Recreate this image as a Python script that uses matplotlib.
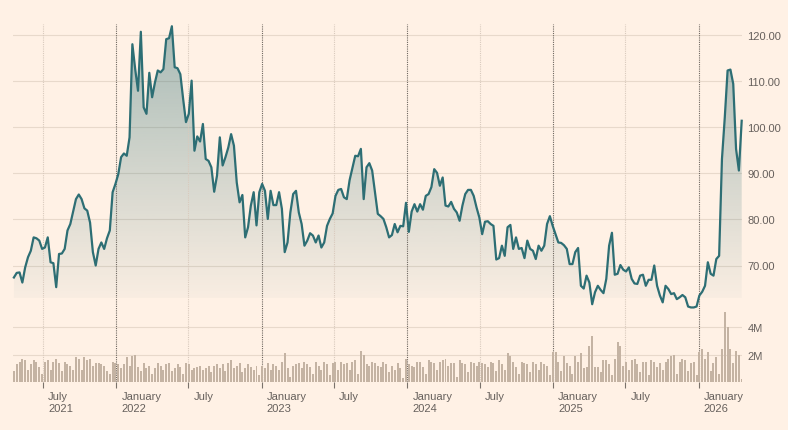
import numpy as np
import pandas as pd
import matplotlib
matplotlib.use("Agg")
import matplotlib.pyplot as plt
import matplotlib.dates as mdates
import matplotlib.transforms as mtransforms
from matplotlib.colors import to_rgb

plt.rcParams['font.family'] = ['Liberation Sans', 'DejaVu Sans']

# weekly closing price
price = [
    67.4, 68.4, 68.5, 66.3, 69.6, 71.8, 73.2, 76.1, 75.9, 75.4,
    73.6, 73.9, 76.1, 70.7, 70.5, 65.3, 72.5, 72.6, 73.6, 77.6,
    79.0, 81.7, 84.4, 85.4, 84.4, 82.4, 81.9, 79.3, 72.9, 70.0,
    73.6, 75.0, 73.6, 75.9, 77.6, 85.9, 87.7, 89.8, 93.5, 94.3,
    93.8, 97.8, 118.0, 112.6, 107.9, 120.7, 104.3, 102.9, 111.8, 106.5,
    109.7, 112.3, 111.9, 112.6, 119.1, 119.3, 121.9, 113.0, 112.8, 111.5,
    106.1, 101.1, 102.9, 110.1, 94.9, 98.0, 96.9, 100.7, 93.1, 92.7,
    91.3, 86.0, 89.5, 97.8, 91.7, 93.5, 95.6, 98.5, 96.0, 88.0,
    83.7, 85.3, 76.1, 78.3, 83.0, 85.9, 78.7, 85.9, 87.7, 86.2,
    80.1, 86.2, 83.1, 83.1, 85.9, 82.3, 72.9, 75.0, 81.5, 85.5,
    86.2, 81.5, 79.0, 74.3, 75.4, 77.0, 76.5, 75.0, 76.5, 73.9,
    75.0, 78.6, 80.1, 81.3, 85.1, 86.4, 86.6, 84.8, 84.4, 88.5,
    91.1, 93.8, 93.7, 95.3, 84.4, 91.3, 92.2, 90.6, 85.9, 81.2,
    80.7, 80.1, 78.3, 76.1, 76.6, 79.0, 77.2, 78.6, 78.5, 83.6,
    77.3, 81.7, 83.3, 81.7, 83.3, 82.1, 85.1, 85.5, 87.0, 90.9,
    90.1, 87.3, 89.1, 83.0, 82.8, 83.8, 82.3, 81.5, 79.7, 83.0,
    85.5, 86.4, 86.4, 85.1, 82.6, 80.4, 76.8, 79.5, 79.6, 79.0,
    78.6, 71.3, 71.6, 74.3, 72.1, 78.3, 78.8, 73.6, 76.1, 73.6,
    73.8, 71.6, 75.4, 73.6, 73.2, 71.4, 74.3, 73.2, 74.3, 79.0,
    80.7, 78.6, 76.8, 75.0, 74.9, 74.4, 73.6, 70.3, 70.3, 72.9,
    73.8, 65.6, 65.0, 67.8, 66.3, 61.6, 64.2, 65.6, 64.7, 64.0,
    67.1, 74.3, 77.1, 68.0, 68.2, 70.1, 69.1, 68.7, 69.6, 67.1,
    66.1, 66.0, 67.8, 68.0, 65.6, 66.9, 66.9, 70.0, 65.6, 63.5,
    62.0, 65.6, 64.9, 63.8, 64.0, 62.7, 63.1, 63.6, 63.1, 61.1,
    60.9, 60.9, 61.1, 63.5, 64.3, 65.6, 70.7, 68.2, 67.8, 71.4,
    72.1, 93.1, 102.1, 112.3, 112.5, 109.4, 95.3, 90.6, 101.4,
]

# volume in millions
volume = [
    0.8, 1.3, 1.5, 1.7, 1.6, 0.9, 1.3, 1.6, 1.5, 1.1, 0.6,
    1.5, 1.6, 0.9, 1.5, 1.7, 1.4, 0.8, 1.5, 1.3, 1.2,
    0.9, 1.8, 1.7, 0.9, 1.8, 1.6, 1.7, 1.2, 1.4, 1.4,
    1.3, 1.2, 0.8, 0.6, 1.5, 1.4,
    1.3, 1.0, 1.3, 1.8, 1.2, 1.9, 2.0, 1.1, 0.8, 1.4,
    1.0, 1.2, 0.6, 1.0, 1.4, 1.2, 0.9, 1.3, 1.4, 0.8,
    1.0, 1.3, 1.1, 0.6, 1.4,
    1.3, 0.9, 1.0, 1.1, 1.2, 0.9, 1.0, 1.2, 0.7, 1.2,
    1.3, 1.0, 1.3, 0.8, 1.4, 1.6, 1.0, 1.2, 1.4, 0.7,
    1.0, 1.3, 1.1, 0.9, 1.2, 0.5,
    1.2, 1.0, 1.4, 0.9, 1.3, 1.2, 0.9, 1.5, 2.1, 1.0,
    0.4, 1.2, 1.3, 1.4, 1.0, 1.5, 1.3, 1.1, 0.6, 1.5,
    1.2, 0.9, 1.5, 1.3, 0.5,
    1.4, 1.5, 0.9, 1.5, 1.3, 1.4, 0.9, 1.5, 1.6, 0.6,
    2.3, 2.0, 1.3, 1.2, 1.5, 1.4, 1.2, 1.1, 1.5,
    1.3, 0.7, 1.2, 0.9, 1.4, 1.0, 0.3,
    1.7, 1.3, 1.2, 1.1, 1.5, 1.5, 1.1, 0.6, 1.6, 1.5,
    1.4, 0.9, 1.5, 1.6, 1.7, 1.2, 1.4, 1.4, 0.4, 1.6,
    1.4, 1.3, 0.7, 1.5, 1.4, 1.2,
    1.5, 1.4, 1.3, 1.1, 1.5, 1.4, 0.8, 1.6, 1.3, 0.9,
    2.1, 1.9, 1.5, 1.1, 0.6, 1.5, 1.4, 1.3, 0.7, 1.5,
    1.3, 0.9, 1.5, 1.3, 1.2, 0.5,
    2.2, 2.2, 1.5, 0.8, 1.9, 1.4, 1.2, 0.6, 1.9, 1.5,
    2.1, 1.0, 1.1, 2.6, 3.4, 1.1, 1.1, 0.7, 1.6, 1.6,
    1.3, 0.5, 1.7, 2.9, 2.6, 1.2,
    1.5, 0.9, 1.6, 1.7, 1.3, 0.7, 1.5, 1.5, 0.5, 1.6,
    1.5, 1.1, 1.4, 0.9, 1.5, 1.7, 1.9, 2.0, 0.6, 1.5,
    1.7, 1.6, 0.8, 1.4, 1.5, 0.5,
    2.2, 2.4, 1.7, 2.2, 0.8, 1.4, 1.8, 0.6, 2.4, 5.1,
    4.0, 2.4, 1.4, 2.3, 2.0, 0.2,
]

start_date = "2021-04-19"
end_date = "2026-04-19"
tick_dates = ["2021-07-01", "2022-01-01", "2022-07-01", "2023-01-01", "2023-07-01",
              "2024-01-01", "2024-07-01", "2025-01-01", "2025-07-01", "2026-01-01"]
tick_labels = ["July\n2021", "January\n2022", "July", "January\n2023", "July",
               "January\n2024", "July", "January\n2025", "July", "January\n2026"]
price_ticks = [70, 80, 90, 100, 110, 120]
vol_ticks = [2, 4]

bg = '#fff1e5'
line_col = '#2d6e74'
grid_col = '#e8d9cb'
text_col = '#66605c'
bar_col = '#c4b3a3'

dates = pd.date_range(start_date, end_date, periods=len(price))
x = mdates.date2num(dates.to_pydatetime())
x0, x1 = x[0] - 3, x[-1]
vol = np.array(volume) * 1e6

fig = plt.figure(figsize=(7.88, 4.31), dpi=100, facecolor=bg)
W, H = 788, 431
left, right = 12.7, 741.7
ax_p = fig.add_axes([left / W, 1 - 299 / H, (right - left) / W, (299 - 25) / H])
ax_v = fig.add_axes([left / W, 1 - 383 / H, (right - left) / W, (383 - 299) / H])

p_lo = 120 - (299 - 36) / 4.61
p_hi = 120 + (36 - 25) / 4.61

for ax in (ax_p, ax_v):
    ax.set_facecolor('none')
    for s in ax.spines.values():
        s.set_visible(False)
    for d in tick_dates:
        dn = mdates.datestr2num(d)
        if d.endswith("01-01"):
            ax.axvline(dn, color='#6e6760', lw=0.8, ls=(0, (1, 1)), zorder=2)
        else:
            ax.axvline(dn, color='#d9cabd', lw=0.8, ls=(0, (1, 1)), zorder=2)

# price panel
for t in price_ticks:
    ax_p.axhline(t, color=grid_col, lw=0.8, zorder=0)

grad = np.zeros((256, 1, 4))
grad[..., :3] = to_rgb(line_col)
grad[..., 3] = np.linspace(0.42, 0.03, 256)[:, None]
im = ax_p.imshow(grad, aspect='auto', extent=[x0, x1, p_lo, p_hi], origin='upper', zorder=1)
poly = ax_p.fill_between(x, price, p_lo, facecolor='none', edgecolor='none')
im.set_clip_path(poly.get_paths()[0], transform=ax_p.transData)
ax_p.plot(x, price, color=line_col, lw=1.6, zorder=5, clip_on=False, solid_joinstyle='round')

ax_p.set_xlim(x0, x1)
ax_p.set_ylim(p_lo, p_hi)
ax_p.yaxis.tick_right()
ax_p.set_yticks(price_ticks)
ax_p.set_yticklabels([f"{t:.2f}" for t in price_ticks])
ax_p.tick_params(axis='y', length=0, pad=4, labelsize=8, labelcolor=text_col)
ax_p.set_xticks([])

# volume panel
for t in vol_ticks:
    ax_v.axhline(t * 1e6, color=grid_col, lw=0.8, zorder=0)
ax_v.bar(x, vol, width=5, color=bar_col, zorder=3)
ax_v.set_xlim(x0, x1)
ax_v.set_ylim(0, 6.15e6)
ax_v.yaxis.tick_right()
ax_v.set_yticks([t * 1e6 for t in vol_ticks])
ax_v.set_yticklabels([f"{t}M" for t in vol_ticks])
ax_v.tick_params(axis='y', length=0, pad=4, labelsize=8, labelcolor=text_col)
ax_v.set_xticks([mdates.datestr2num(d) for d in tick_dates])
ax_v.set_xticklabels(tick_labels, ha='left', linespacing=1.25)
ax_v.tick_params(axis='x', length=4, width=0.8, color='#7a726b', pad=2.5,
                 labelsize=8, labelcolor=text_col)
shift = mtransforms.ScaledTranslation(5 / 100, 0, fig.dpi_scale_trans)
for lab in ax_v.get_xticklabels():
    lab.set_transform(lab.get_transform() + shift)

fig.savefig("out.png", dpi=100, facecolor=bg)
